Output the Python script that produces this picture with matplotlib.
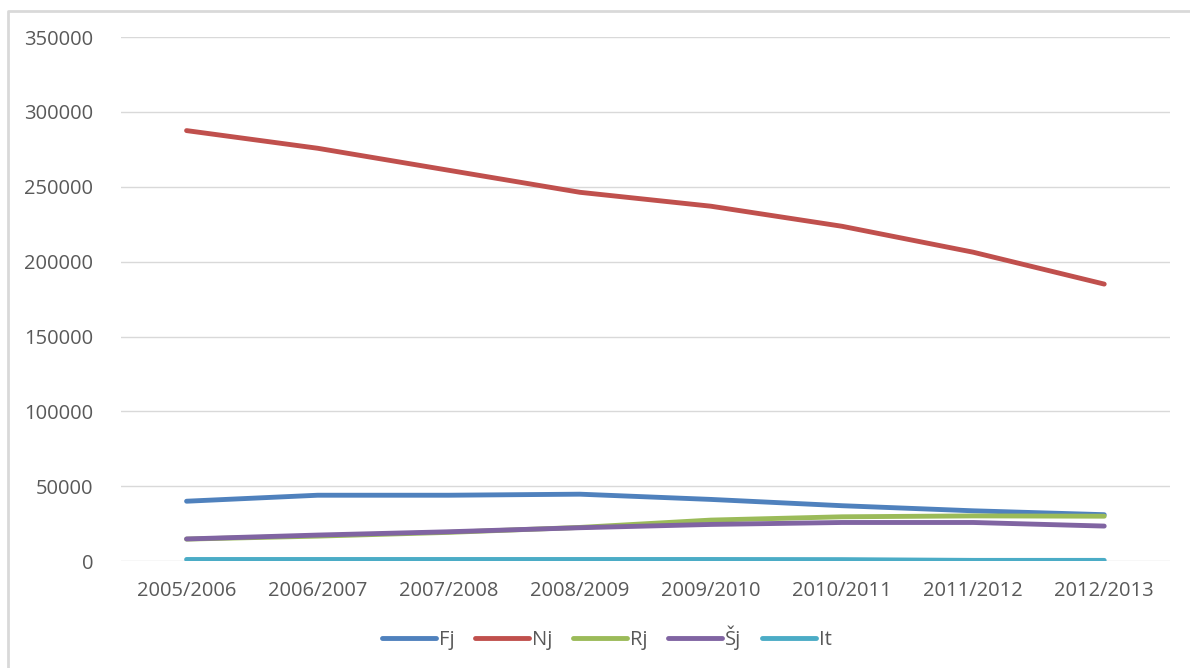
import matplotlib.pyplot as plt
from matplotlib.lines import Line2D

years = ['2005/2006', '2006/2007', '2007/2008', '2008/2009',
         '2009/2010', '2010/2011', '2011/2012', '2012/2013']
fj = [40000, 44000, 44000, 44700, 41200, 37000, 33600, 31000]
nj = [287500, 275700, 261000, 246300, 237000, 223600, 206300, 185000]
rj = [14700, 16700, 19200, 22500, 27400, 29600, 30200, 30000]
sj = [14800, 17400, 19600, 22300, 24500, 25800, 25800, 23400]
it = [1100, 1100, 1100, 1100, 1100, 1000, 500, 500]

names = ['Fj', 'Nj', 'Rj', 'Šj', 'It']
series = [fj, nj, rj, sj, it]
colors = ['#4F81BD', '#C0504D', '#9BBB59', '#8064A2', '#4BACC6']

plt.rcParams['font.family'] = ['Open Sans', 'DejaVu Sans']
txt = '#595959'

fig = plt.figure(figsize=(11.9, 6.68), dpi=100)
ax = fig.add_axes([0.1017, 0.160, 0.8813, 0.7846])

x = range(len(years))
for name, ys, c in zip(names, series, colors):
    ax.plot(x, ys, '-', color=c, lw=3.5, label=name, solid_capstyle='round')

ax.set_xlim(-0.5, len(years) - 0.5)
ax.set_ylim(0, 350000)
ax.set_yticks(range(0, 350001, 50000))
ax.set_xticks(list(x))
ax.set_xticklabels(years)
ax.grid(True, axis='y', color='#D9D9D9', lw=1)
ax.set_axisbelow(True)
for s in ax.spines.values():
    s.set_visible(False)
ax.tick_params(axis='both', length=0, labelsize=14.5, colors=txt)
ax.tick_params(axis='y', pad=20)
ax.tick_params(axis='x', pad=14)

fig.legend(loc='center', bbox_to_anchor=(0.51, 0.045), ncol=5, frameon=False,
           handlelength=2.7, handletextpad=0.15, columnspacing=1.0,
           fontsize=14.5, labelcolor=txt)

# chart frame: only left and top edges are visible in the picture
x0, y1 = 7.5 / 1190, 1 - 11 / 668
fig.lines.append(Line2D([x0, x0, 1], [0, y1, y1], transform=fig.transFigure,
                        color='#D9D9D9', lw=2))

fig.savefig('out.png', dpi=100)
